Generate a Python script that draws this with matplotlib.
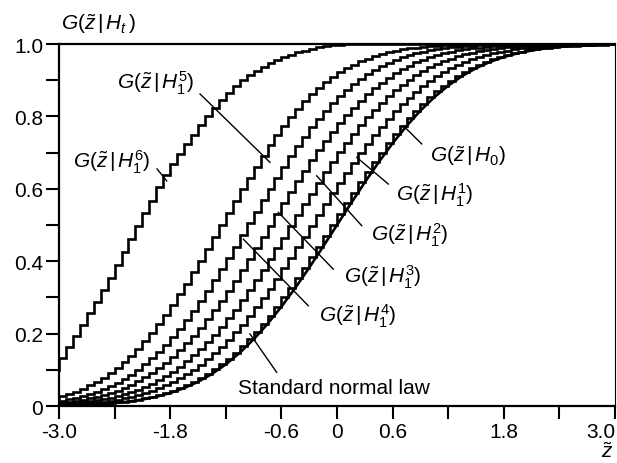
import numpy as np
import matplotlib
matplotlib.use("Agg")
import matplotlib.pyplot as plt

# ---------------------------------------------------------------------------
# Data: step CDFs on a grid of 81 points, -3..3
# ---------------------------------------------------------------------------
Z_MIN, Z_MAX, N_STEPS = -3.0, 3.0, 81

G_H0 = [0.0013, 0.0017, 0.0022, 0.0028, 0.0035, 0.0043, 0.0054, 0.0067, 0.0082,
        0.0100, 0.0122, 0.0148, 0.0179, 0.0214, 0.0256, 0.0304, 0.0359, 0.0423,
        0.0495, 0.0576, 0.0668, 0.0771, 0.0885, 0.1012, 0.1151, 0.1303, 0.1469,
        0.1648, 0.1841, 0.2047, 0.2266, 0.2498, 0.2743, 0.2998, 0.3264, 0.3538,
        0.3821, 0.4110, 0.4404, 0.4701, 0.5000, 0.5299, 0.5596, 0.5890, 0.6179,
        0.6462, 0.6736, 0.7002, 0.7257, 0.7502, 0.7734, 0.7953, 0.8159, 0.8352,
        0.8531, 0.8697, 0.8849, 0.8989, 0.9115, 0.9229, 0.9332, 0.9424, 0.9505,
        0.9577, 0.9641, 0.9696, 0.9744, 0.9786, 0.9821, 0.9852, 0.9878, 0.9900,
        0.9918, 0.9933, 0.9946, 0.9957, 0.9965, 0.9972, 0.9978, 0.9983, 0.9987]

G_H1_1 = [0.0027, 0.0034, 0.0043, 0.0053, 0.0066, 0.0081, 0.0099, 0.0121, 0.0146,
          0.0176, 0.0212, 0.0253, 0.0301, 0.0355, 0.0418, 0.0490, 0.0571, 0.0662,
          0.0764, 0.0877, 0.1003, 0.1141, 0.1292, 0.1457, 0.1635, 0.1827, 0.2033,
          0.2251, 0.2483, 0.2726, 0.2981, 0.3246, 0.3520, 0.3802, 0.4090, 0.4384,
          0.4681, 0.4980, 0.5279, 0.5576, 0.5871, 0.6160, 0.6443, 0.6718, 0.6985,
          0.7241, 0.7486, 0.7719, 0.7939, 0.8146, 0.8340, 0.8520, 0.8686, 0.8840,
          0.8980, 0.9107, 0.9222, 0.9326, 0.9418, 0.9500, 0.9573, 0.9637, 0.9693,
          0.9741, 0.9783, 0.9819, 0.9850, 0.9876, 0.9898, 0.9917, 0.9932, 0.9945,
          0.9956, 0.9965, 0.9972, 0.9978, 0.9982, 0.9986, 0.9989, 0.9992, 0.9994]

G_H1_2 = [0.0045, 0.0056, 0.0070, 0.0086, 0.0106, 0.0129, 0.0157, 0.0189, 0.0228,
          0.0272, 0.0324, 0.0384, 0.0451, 0.0529, 0.0617, 0.0716, 0.0826, 0.0949,
          0.1084, 0.1234, 0.1396, 0.1575, 0.1765, 0.1971, 0.2189, 0.2423, 0.2666,
          0.2925, 0.3192, 0.3472, 0.3760, 0.4052, 0.4353, 0.4653, 0.4960, 0.5263,
          0.5569, 0.5867, 0.6164, 0.6451, 0.6733, 0.7006, 0.7264, 0.7514, 0.7749,
          0.7973, 0.8180, 0.8377, 0.8556, 0.8725, 0.8876, 0.9016, 0.9142, 0.9256,
          0.9357, 0.9449, 0.9528, 0.9599, 0.9661, 0.9715, 0.9761, 0.9801, 0.9835,
          0.9864, 0.9888, 0.9909, 0.9926, 0.9940, 0.9952, 0.9962, 0.9970, 0.9976,
          0.9981, 0.9985, 0.9989, 0.9991, 0.9993, 0.9995, 0.9996, 0.9997, 0.9998]

G_H1_3 = [0.0076, 0.0094, 0.0116, 0.0142, 0.0172, 0.0209, 0.0251, 0.0301, 0.0358,
          0.0424, 0.0499, 0.0584, 0.0681, 0.0791, 0.0913, 0.1047, 0.1196, 0.1359,
          0.1536, 0.1729, 0.1935, 0.2159, 0.2395, 0.2643, 0.2905, 0.3177, 0.3461,
          0.3752, 0.4052, 0.4360, 0.4669, 0.4980, 0.5291, 0.5600, 0.5906, 0.6206,
          0.6499, 0.6787, 0.7061, 0.7324, 0.7574, 0.7811, 0.8034, 0.8243, 0.8438,
          0.8619, 0.8784, 0.8934, 0.9071, 0.9194, 0.9304, 0.9403, 0.9490, 0.9567,
          0.9634, 0.9693, 0.9743, 0.9786, 0.9823, 0.9854, 0.9881, 0.9903, 0.9922,
          0.9937, 0.9950, 0.9960, 0.9968, 0.9975, 0.9980, 0.9985, 0.9988, 0.9991,
          0.9993, 0.9995, 0.9996, 0.9997, 0.9998, 0.9998, 0.9999, 0.9999, 0.9999]

G_H1_4 = [0.0123, 0.0151, 0.0185, 0.0225, 0.0271, 0.0326, 0.0390, 0.0462, 0.0546,
          0.0641, 0.0748, 0.0869, 0.1005, 0.1153, 0.1318, 0.1499, 0.1693, 0.1905,
          0.2133, 0.2373, 0.2630, 0.2901, 0.3181, 0.3475, 0.3779, 0.4087, 0.4404,
          0.4725, 0.5044, 0.5367, 0.5687, 0.5999, 0.6308, 0.6609, 0.6897, 0.7177,
          0.7444, 0.7695, 0.7933, 0.8157, 0.8362, 0.8554, 0.8731, 0.8890, 0.9036,
          0.9167, 0.9283, 0.9387, 0.9479, 0.9559, 0.9630, 0.9690, 0.9742, 0.9787,
          0.9825, 0.9857, 0.9884, 0.9906, 0.9925, 0.9940, 0.9952, 0.9962, 0.9971,
          0.9977, 0.9982, 0.9986, 0.9989, 0.9992, 0.9994, 0.9995, 0.9996, 0.9997,
          0.9998, 0.9998, 0.9999, 0.9999, 0.9999, 1.0000, 1.0000, 1.0000, 1.0000]

G_H1_5 = [0.0228, 0.0276, 0.0334, 0.0401, 0.0478, 0.0567, 0.0668, 0.0783, 0.0913,
          0.1056, 0.1216, 0.1394, 0.1587, 0.1796, 0.2024, 0.2266, 0.2524, 0.2799,
          0.3085, 0.3384, 0.3696, 0.4013, 0.4337, 0.4669, 0.5000, 0.5331, 0.5663,
          0.5987, 0.6304, 0.6616, 0.6915, 0.7201, 0.7476, 0.7734, 0.7976, 0.8204,
          0.8413, 0.8606, 0.8784, 0.8944, 0.9087, 0.9217, 0.9332, 0.9433, 0.9522,
          0.9599, 0.9666, 0.9724, 0.9772, 0.9814, 0.9849, 0.9878, 0.9902, 0.9922,
          0.9938, 0.9951, 0.9962, 0.9970, 0.9977, 0.9982, 0.9987, 0.9990, 0.9992,
          0.9994, 0.9995, 0.9996, 0.9997, 0.9998, 0.9998, 0.9999, 0.9999, 1.0000,
          1.0000, 1.0000, 1.0000, 1.0000, 1.0000, 1.0000, 1.0000, 1.0000, 1.0000]

G_H1_6 = [0.100, 0.132, 0.163, 0.194, 0.225, 0.256, 0.288, 0.321, 0.355,
          0.390, 0.425, 0.461, 0.497, 0.533, 0.567, 0.605, 0.638, 0.668,
          0.697, 0.724, 0.750, 0.775, 0.800, 0.824, 0.846, 0.866, 0.884,
          0.900, 0.914, 0.926, 0.937, 0.947, 0.956, 0.964, 0.971, 0.977,
          0.982, 0.987, 0.991, 0.994, 0.996, 0.998, 0.999, 1.000, 1.000,
          1.000, 1.000, 1.000, 1.000, 1.000, 1.000, 1.000, 1.000, 1.000,
          1.000, 1.000, 1.000, 1.000, 1.000, 1.000, 1.000, 1.000, 1.000,
          1.000, 1.000, 1.000, 1.000, 1.000, 1.000, 1.000, 1.000, 1.000,
          1.000, 1.000, 1.000, 1.000, 1.000, 1.000, 1.000, 1.000, 1.000]

# smooth standard normal law, sampled every 0.15
NORMAL_LAW = [0.0013, 0.0022, 0.0035, 0.0054, 0.0082, 0.0122, 0.0179, 0.0256,
              0.0359, 0.0495, 0.0668, 0.0885, 0.1151, 0.1469, 0.1841, 0.2266,
              0.2743, 0.3264, 0.3821, 0.4404, 0.5000, 0.5596, 0.6179, 0.6736,
              0.7257, 0.7734, 0.8159, 0.8531, 0.8849, 0.9115, 0.9332, 0.9505,
              0.9641, 0.9744, 0.9821, 0.9878, 0.9918, 0.9946, 0.9965, 0.9978,
              0.9987]

X_TICKS = [-3.0, -2.4, -1.8, -1.2, -0.6, 0.0, 0.6, 1.2, 1.8, 2.4, 3.0]
X_TICK_LABELS = ["-3.0", "", "-1.8", "", "-0.6", "0", "0.6", "", "1.8", "", "3.0"]
Y_TICKS = [0.0, 0.2, 0.4, 0.6, 0.8, 1.0]
Y_TICK_LABELS = ["0", "0.2", "0.4", "0.6", "0.8", "1.0"]

# (text, label centre, pointer start, pointer end) in data coords
LABELS = [
    (r"$G(\tilde{z}\,|\,H_1^5)$", (-1.96, 0.893), (-1.478, 0.862), (-0.723, 0.673)),
    (r"$G(\tilde{z}\,|\,H_1^6)$", (-2.43, 0.677), (-1.942, 0.655), (-1.838, 0.622)),
    (r"$G(\tilde{z}\,|\,H_0)$", (1.41, 0.694), (0.914, 0.724), (0.716, 0.774)),
    (r"$G(\tilde{z}\,|\,H_1^1)$", (1.06, 0.586), (0.554, 0.613), (0.213, 0.687)),
    (r"$G(\tilde{z}\,|\,H_1^2)$", (0.78, 0.475), (0.267, 0.498), (-0.219, 0.636)),
    (r"$G(\tilde{z}\,|\,H_1^3)$", (0.49, 0.359), (-0.04, 0.378), (-0.633, 0.535)),
    (r"$G(\tilde{z}\,|\,H_1^4)$", (0.22, 0.251), (-0.31, 0.277), (-1.011, 0.461)),
]
NORMAL_LABEL = ("Standard normal law", (-1.07, 0.052), (-0.651, 0.093), (-0.939, 0.199))

# ---------------------------------------------------------------------------
# Style
# ---------------------------------------------------------------------------
plt.rcParams.update({
    "font.family": "Liberation Sans",
    "mathtext.fontset": "custom",
    "mathtext.rm": "Liberation Sans",
    "mathtext.it": "Liberation Sans:italic",
    "mathtext.bf": "Liberation Sans:bold",
})
FS = 15
LW = 1.9

fig = plt.figure(figsize=(6.17, 4.64), dpi=100)
ax = fig.add_axes([0.0956, 0.1228, 0.9012, 0.7802])

z = np.linspace(Z_MIN, Z_MAX, N_STEPS)
for series in [G_H0, G_H1_1, G_H1_2, G_H1_3, G_H1_4, G_H1_5, G_H1_6]:
    ax.step(z, series, where="pre", color="black", lw=LW,
            solid_joinstyle="miter", zorder=3)

z_norm = np.linspace(Z_MIN, Z_MAX, len(NORMAL_LAW))
ax.plot(z_norm, NORMAL_LAW, color="black", lw=LW, zorder=3)

for text, (tx, ty), p0, p1 in LABELS:
    ax.text(tx, ty, text, fontsize=FS, ha="center", va="center", zorder=5)
    ax.plot([p0[0], p1[0]], [p0[1], p1[1]], color="black", lw=1.0, zorder=4)

text, (tx, ty), p0, p1 = NORMAL_LABEL
ax.text(tx, ty, text, fontsize=FS, ha="left", va="center", zorder=5)
ax.plot([p0[0], p1[0]], [p0[1], p1[1]], color="black", lw=1.0, zorder=4)

ax.set_xlim(Z_MIN, Z_MAX)
ax.set_ylim(0, 1.0)
ax.set_xticks(X_TICKS)
ax.set_xticklabels(X_TICK_LABELS, fontsize=FS)
ax.xaxis.get_majorticklabels()[-1].set_horizontalalignment("right")
ax.set_yticks(Y_TICKS)
ax.set_yticklabels(Y_TICK_LABELS, fontsize=FS)
ax.set_yticks([0.1, 0.3, 0.5, 0.7, 0.9], minor=True)
ax.tick_params(axis="both", which="both", direction="out", length=9.5, width=1.5)
ax.tick_params(axis="x", pad=2)
ax.tick_params(axis="y", pad=2)

for side in ["left", "bottom", "top"]:
    ax.spines[side].set_linewidth(1.6)
ax.spines["right"].set_linewidth(0.8)

fig.text(0.16, 0.948, r"$G(\tilde{z}\,|\,H_t\,)$", fontsize=FS, ha="center", va="center")
fig.text(0.984, 0.004, r"$\tilde{z}$", fontsize=FS, ha="center", va="bottom")

fig.savefig("out.png", dpi=100)
